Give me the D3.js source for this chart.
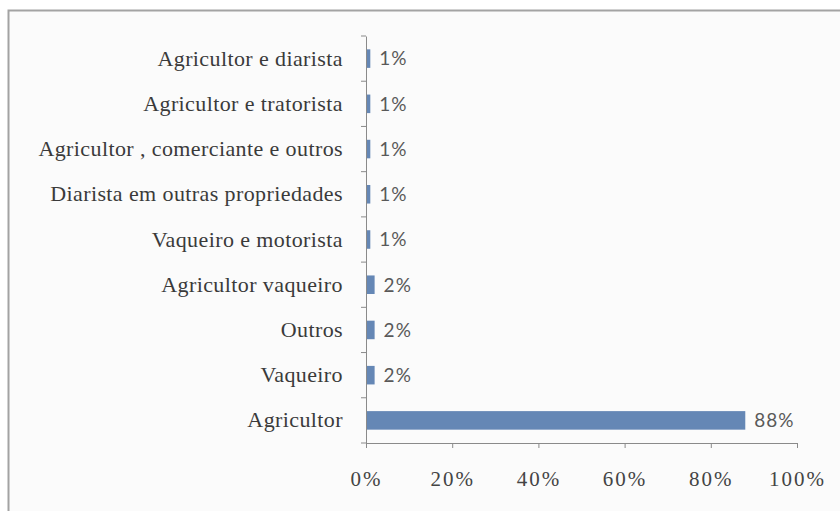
<!DOCTYPE html>
<html>
<head>
<meta charset="utf-8">
<script src="https://cdn.jsdelivr.net/npm/d3@7"></script>
<style>
  html, body { margin: 0; padding: 0; background: #ffffff; }
  svg { display: block; }
</style>
</head>
<body>
<svg id="chart" width="840" height="511"></svg>
<script>
// Occupation categories, top to bottom
const categories = [
  "Agricultor e diarista",
  "Agricultor e tratorista",
  "Agricultor , comerciante e outros",
  "Diarista em outras propriedades",
  "Vaqueiro e motorista",
  "Agricultor vaqueiro",
  "Outros",
  "Vaqueiro",
  "Agricultor"
];
// Share of respondents (fraction)
const values = [0.01, 0.01, 0.01, 0.01, 0.01, 0.02, 0.02, 0.02, 0.88];
// Horizontal axis ticks
const xTicks = [0, 0.2, 0.4, 0.6, 0.8, 1.0];

const serifFont = '"Liberation Serif", serif';
const sansFont = '"Lato", sans-serif';

const svg = d3.select("#chart");

// chart frame
svg.append("rect")
  .attr("x", 8.5).attr("y", 10.5)
  .attr("width", 850).attr("height", 520)
  .attr("fill", "#fbfbfb")
  .attr("stroke", "#a3a3a3")
  .attr("stroke-width", 2);

const x = d3.scaleLinear().domain([0, 1]).range([366, 797]);
const y = d3.scaleBand().domain(categories).range([36, 443])
  .paddingInner(0.59).paddingOuter(0.295);

const axisColor = "#8a8a8a";

// bars
svg.append("g").selectAll("rect")
  .data(categories)
  .join("rect")
  .attr("x", x(0))
  .attr("y", d => y(d))
  .attr("width", (d, i) => x(values[i]) - x(0))
  .attr("height", y.bandwidth())
  .attr("fill", "#6587b5");

// value labels
svg.append("g").selectAll("text")
  .data(categories)
  .join("text")
  .attr("x", (d, i) => x(values[i]) + 9)
  .attr("y", d => y(d) + y.bandwidth() / 2)
  .attr("dy", "0.36em")
  .style("font-family", sansFont)
  .style("font-size", "19px")
  .style("letter-spacing", "1px")
  .attr("fill", "#595959")
  .text((d, i) => d3.format(".0%")(values[i]));

// bottom axis
const xAxis = svg.append("g")
  .attr("transform", "translate(0,443)")
  .call(d3.axisBottom(x).tickValues(xTicks)
    .tickFormat(d3.format(".0%")).tickSize(5).tickSizeOuter(5).tickPadding(23));
xAxis.attr("font-family", null).attr("font-size", null);
xAxis.select(".domain").attr("stroke", axisColor);
xAxis.selectAll(".tick line").attr("stroke", axisColor);
xAxis.selectAll(".tick text")
  .style("font-family", serifFont)
  .style("font-size", "21px")
  .style("letter-spacing", "2px")
  .attr("fill", "#444444");

// left axis: category labels
const yAxis = svg.append("g")
  .attr("transform", "translate(366,0)")
  .call(d3.axisLeft(y).tickSize(0).tickSizeOuter(0).tickPadding(23));
yAxis.attr("font-family", null).attr("font-size", null);
yAxis.select(".domain").attr("stroke", axisColor);
yAxis.selectAll(".tick text")
  .style("font-family", serifFont)
  .style("font-size", "22px")
  .style("letter-spacing", "0.4px")
  .attr("fill", "#3a3a3a");

// category separator ticks at band boundaries
const bounds = d3.range(categories.length + 1)
  .map(i => y.range()[0] + i * y.step());
svg.append("g").selectAll("line")
  .data(bounds)
  .join("line")
  .attr("x1", 361).attr("x2", 366)
  .attr("y1", d => d).attr("y2", d => d)
  .attr("stroke", axisColor);
</script>
</body>
</html>
